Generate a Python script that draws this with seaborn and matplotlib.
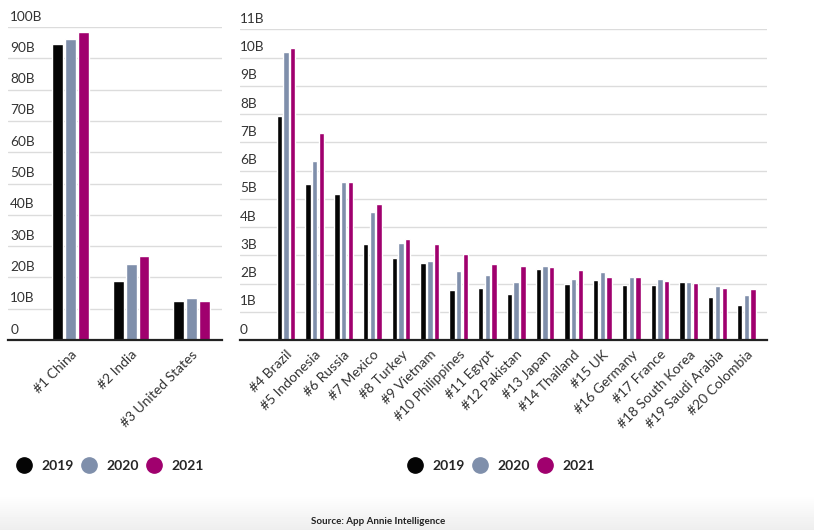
import matplotlib
matplotlib.use("Agg")
import matplotlib.pyplot as plt
from matplotlib.lines import Line2D
from matplotlib.transforms import ScaledTranslation
import seaborn as sns
import pandas as pd
import numpy as np

# ---- data ----
top_countries = ["#1 China", "#2 India", "#3 United States"]
top_2019 = [94.6, 18.9, 12.4]
top_2020 = [96.3, 24.3, 13.5]
top_2021 = [98.5, 26.8, 12.4]

rest_countries = ["#4 Brazil", "#5 Indonesia", "#6 Russia", "#7 Mexico", "#8 Turkey",
                  "#9 Vietnam", "#10 Philippines", "#11 Egypt", "#12 Pakistan", "#13 Japan",
                  "#14 Thailand", "#15 UK", "#16 Germany", "#17 France", "#18 South Korea",
                  "#19 Saudi Arabia", "#20 Colombia"]
rest_2019 = [7.94, 5.52, 5.16, 3.39, 2.89, 2.71, 1.78, 1.84, 1.62, 2.51, 1.99, 2.13, 1.96, 1.95, 2.04, 1.51, 1.24]
rest_2020 = [10.19, 6.34, 5.60, 4.52, 3.43, 2.78, 2.43, 2.31, 2.06, 2.62, 2.16, 2.42, 2.22, 2.16, 2.06, 1.90, 1.58]
rest_2021 = [10.35, 7.33, 5.60, 4.83, 3.56, 3.39, 3.03, 2.68, 2.62, 2.57, 2.47, 2.23, 2.23, 2.09, 2.02, 1.84, 1.81]

years = ["2019", "2020", "2021"]
left_ticks = [0, 10, 20, 30, 40, 50, 60, 70, 80, 90, 100]
left_tick_labels = ["0", "10B", "20B", "30B", "40B", "50B", "60B", "70B", "80B", "90B", "100B"]
right_ticks = list(range(0, 12))
right_tick_labels = ["0"] + [f"{i}B" for i in range(1, 12)]
source_text = "Source: App Annie Intelligence"

colors = {"2019": "#050505", "2020": "#7f8fab", "2021": "#a0006e"}


def long_df(cats, a, b, c):
    rows = []
    for i, cat in enumerate(cats):
        for y, vals in zip(years, (a, b, c)):
            rows.append({"country": cat, "year": y, "value": vals[i]})
    return pd.DataFrame(rows)


df_top = long_df(top_countries, top_2019, top_2020, top_2021)
df_rest = long_df(rest_countries, rest_2019, rest_2020, rest_2021)

sns.set_theme(style="white")
plt.rcParams["font.family"] = ["Lato", "DejaVu Sans"]

W, H = 814, 530
fig = plt.figure(figsize=(W / 100, H / 100), dpi=100)
fig.patch.set_facecolor("white")

# subtle bottom shading like the reference background
bg = fig.add_axes([0, 0, 1, 1], zorder=-10)
grad = np.ones((H, 1))
ys = np.arange(H)
grad[:, 0] = np.clip((ys - 495) / 35.0, 0, 1)
bg.imshow(1 - 0.07 * grad, cmap="gray", vmin=0, vmax=1, aspect="auto",
          extent=(0, 1, 0, 1), origin="upper")
bg.set_axis_off()

ax1 = fig.add_axes([8 / W, 1 - 340 / H, (222 - 8) / W, (340 - 27) / H])
ax2 = fig.add_axes([240 / W, 1 - 340 / H, (767 - 240) / W, (340 - 29.3) / H])

sns.barplot(data=df_top, x="country", y="value", hue="year", palette=colors,
            width=0.64, gap=0.15, ax=ax1, legend=False, saturation=1)
sns.barplot(data=df_rest, x="country", y="value", hue="year", palette=colors,
            width=0.70, gap=0.2, ax=ax2, legend=False, saturation=1)


def style(ax, n, xlim, ylim, ticks, labels, label_dx):
    ax.set_facecolor("none")
    ax.set_xlim(*xlim)
    ax.set_ylim(*ylim)
    ax.set_xlabel("")
    ax.set_ylabel("")
    for s in ["top", "right", "left"]:
        ax.spines[s].set_visible(False)
    ax.spines["bottom"].set_color("#222222")
    ax.spines["bottom"].set_linewidth(1.6)
    ax.set_yticks(ticks)
    ax.set_yticklabels([])
    ax.tick_params(axis="y", length=0)
    ax.yaxis.grid(True, color="#dcdcdc", linewidth=1)
    ax.set_axisbelow(True)
    for t, lab in zip(ticks, labels):
        ax.annotate(lab, xy=(label_dx, t), xycoords=("axes fraction", "data"),
                    xytext=(0, 7.5), textcoords="offset points",
                    ha="left", va="center", fontsize=9.8, color="#333333")
    ax.set_xticks(range(n))
    ax.set_xticklabels(ax.get_xticklabels(), rotation=45, ha="right",
                       rotation_mode="anchor", fontsize=10, color="#333333")
    off = ScaledTranslation(4 / 100, 0, fig.dpi_scale_trans)
    for lab in ax.get_xticklabels():
        lab.set_transform(lab.get_transform() + off)
    ax.tick_params(axis="x", which="major", length=0, pad=6)
    ax.set_xticks(np.arange(-0.5, n, 1.0), minor=True)
    ax.tick_params(axis="x", which="minor", length=8, width=1, color="#333333",
                   direction="out")


style(ax1, 3, (-1.03, 2.5), (0, 100), left_ticks, left_tick_labels, 0.01)
style(ax2, 17, (-1.6, 16.72), (0, 11), right_ticks, right_tick_labels, 0.0)

# legends
handles = [Line2D([0], [0], marker="o", linestyle="", markersize=11,
                  markerfacecolor=colors[y], markeredgecolor=colors[y]) for y in years]
for x0 in (16.7 / W, 407.7 / W):
    fig.legend(handles, years, loc="center left", bbox_to_anchor=(x0, 1 - 466 / H),
               ncol=3, frameon=False, handletextpad=0.75, columnspacing=0.6,
               handlelength=1.0, borderaxespad=0, borderpad=0,
               prop={"size": 10, "weight": "bold"})

fig.text(378 / W, 1 - 521 / H, source_text, ha="center", va="center",
         fontsize=7, fontweight="bold", color="#222222")

fig.savefig("out.png", dpi=100)
